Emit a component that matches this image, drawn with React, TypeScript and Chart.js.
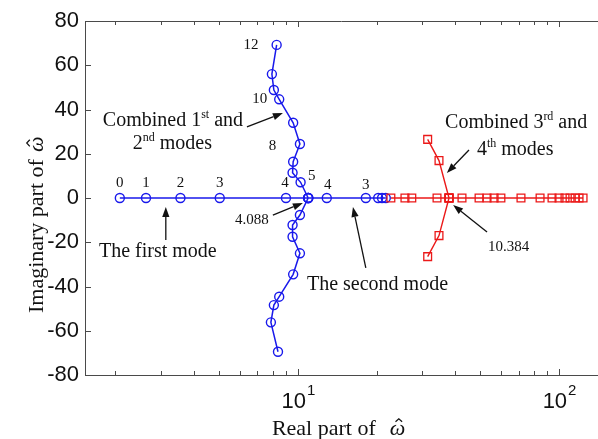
import React, { useEffect, useRef } from "react";
import { Chart, registerables } from "chart.js";
Chart.register(...registerables);

// ---------- data (real part, imaginary part) ----------
// blue: first mode on the real axis (parameter 0 .. 4, then junction 4.088)
const firstModeRe = [2.08, 2.62, 3.55, 5.02, 9.0, 10.95];
const firstModeIm = [0, 0, 0, 0, 0, 0];
// blue: second mode on the real axis
const secondModeRe = [21.7, 21.0, 20.3, 18.2, 12.9, 10.95];
const secondModeIm = [0, 0, 0, 0, 0, 0];
// blue: combined 1st and 2nd modes (complex pair)
const comb12UpRe = [10.95, 10.24, 9.54, 9.59, 10.18, 9.59, 8.48, 8.09, 7.95, 8.29];
const comb12UpIm = [0, 7.1, 11.4, 16.4, 24.4, 34.0, 44.6, 48.8, 56.0, 69.2];
const comb12LoRe = [10.95, 10.18, 9.54, 9.54, 10.18, 9.59, 8.48, 8.09, 7.88, 8.39];
const comb12LoIm = [0, -7.7, -12.2, -17.5, -25.0, -34.5, -44.6, -48.4, -56.2, -69.5];
// red: third mode on the real axis
const thirdModeRe = [22.7, 25.7, 27.3, 34.1, 37.9];
const thirdModeIm = [0, 0, 0, 0, 0];
// red: fourth mode on the real axis
const fourthModeRe = [123.6, 119.3, 115.2, 110.2, 105.4, 100, 94.0, 84.6, 71.5, 59.9, 56.4, 53.0, 49.4, 42.5, 37.9];
const fourthModeIm = [0, 0, 0, 0, 0, 0, 0, 0, 0, 0, 0, 0, 0, 0, 0];
// red: combined 3rd and 4th modes
const comb34UpRe = [37.9, 34.7, 31.4];
const comb34UpIm = [0, 16.9, 26.5];
const comb34LoRe = [37.9, 34.7, 31.4];
const comb34LoIm = [0, -17.0, -26.5];

// ---------- ticks ----------
const yTicks = [-80, -60, -40, -20, 0, 20, 40, 60, 80];
const xMajorTicks = [10, 100];
const xMajorExp = ["1", "2"];
const xMinorTicks = [2, 3, 4, 5, 6, 7, 8, 9, 20, 30, 40, 50, 60, 70, 80, 90];

// ---------- annotations (data coordinates) ----------
const numLabels = ["0", "1", "2", "3", "4", "5", "4", "3", "8", "10", "12"];
const numLabelRe = [2.08, 2.62, 3.55, 5.02, 8.92, 11.3, 13.0, 18.2, 8.0, 7.15, 6.61];
const numLabelIm = [6.8, 6.8, 6.8, 6.8, 6.8, 9.9, 5.9, 5.9, 23.5, 44.6, 69.2];

type Part = { t: string; sup?: boolean };
const richTexts: { parts: Part[]; re: number; im: number; size: number }[] = [
  { parts: [{ t: "Combined 1" }, { t: "st", sup: true }, { t: " and" }], re: 1.79, im: 32.5, size: 20 },
  { parts: [{ t: "2" }, { t: "nd", sup: true }, { t: " modes" }], re: 2.33, im: 22.0, size: 20 },
  { parts: [{ t: "The first mode" }], re: 1.73, im: -26.5, size: 20 },
  { parts: [{ t: "4.088" }], re: 5.74, im: -11.75, size: 15 },
  { parts: [{ t: "The second mode" }], re: 10.83, im: -41.6, size: 20 },
  { parts: [{ t: "Combined 3" }, { t: "rd", sup: true }, { t: " and" }], re: 36.6, im: 31.6, size: 20 },
  { parts: [{ t: "4" }, { t: "th", sup: true }, { t: " modes" }], re: 48.5, im: 19.4, size: 20 },
  { parts: [{ t: "10.384" }], re: 53.5, im: -24.0, size: 15 },
];

// arrows: [fromRe, fromIm, toRe, toIm]
const arrows: number[][] = [
  [6.38, 32.1, 8.76, 38.4],
  [3.12, -19.0, 3.12, -4.1],
  [8.02, -7.7, 10.45, -2.26],
  [18.2, -31.6, 16.25, -4.07],
  [45.2, 21.7, 37.2, 11.3],
  [53.0, -15.4, 39.3, -3.16],
];

const BLUE = "rgb(25,25,235)";
const RED = "rgb(235,25,25)";
const AXIS = "#4a4a4a";
const SERIF = '"Liberation Serif", "Times New Roman", serif';
const SANS = '"Liberation Sans", Arial, sans-serif';

const pts = (re: number[], im: number[]) => re.map((x, i) => ({ x, y: im[i] }));

function blueSet(re: number[], im: number[]) {
  return {
    data: pts(re, im),
    showLine: true,
    borderColor: BLUE,
    borderWidth: 1.5,
    pointStyle: "circle",
    pointRadius: 4.5,
    pointBorderColor: BLUE,
    pointBorderWidth: 1.4,
    pointBackgroundColor: "rgba(0,0,0,0)",
  };
}
function redSet(re: number[], im: number[]) {
  return {
    data: pts(re, im),
    showLine: true,
    borderColor: RED,
    borderWidth: 1.4,
    pointStyle: "rect",
    pointRadius: 5.5,
    pointBorderColor: RED,
    pointBorderWidth: 1.3,
    pointBackgroundColor: "rgba(0,0,0,0)",
  };
}

function drawOmegaHat(ctx: CanvasRenderingContext2D, x: number, y: number, size: number) {
  ctx.font = `italic ${size}px ${SERIF}`;
  ctx.textAlign = "left";
  ctx.fillText("ω", x, y);
  const w = ctx.measureText("ω").width;
  const cx = x + w / 2 + size * 0.06;
  ctx.save();
  ctx.lineWidth = Math.max(1, size * 0.055);
  ctx.strokeStyle = ctx.fillStyle as string;
  ctx.beginPath();
  ctx.moveTo(cx - size * 0.15, y - size * 0.6);
  ctx.lineTo(cx, y - size * 0.74);
  ctx.lineTo(cx + size * 0.15, y - size * 0.6);
  ctx.stroke();
  ctx.restore();
  return w;
}

const overlay = {
  id: "overlay",
  afterDraw(chart: any) {
    const { ctx, chartArea: a, scales } = chart;
    const xs = scales.x;
    const ys = scales.y;
    const X = (v: number) => xs.getPixelForValue(v);
    const Y = (v: number) => ys.getPixelForValue(v);
    ctx.save();

    // box top line + inward ticks
    ctx.strokeStyle = AXIS;
    ctx.lineWidth = 1;
    ctx.beginPath();
    ctx.moveTo(a.left, a.top + 0.5);
    ctx.lineTo(a.right, a.top + 0.5);
    for (const t of xMinorTicks) {
      const px = Math.round(X(t)) + 0.5;
      ctx.moveTo(px, a.bottom);
      ctx.lineTo(px, a.bottom - 4);
      ctx.moveTo(px, a.top);
      ctx.lineTo(px, a.top + 4);
    }
    for (const t of xMajorTicks) {
      const px = Math.round(X(t)) + 0.5;
      ctx.moveTo(px, a.bottom);
      ctx.lineTo(px, a.bottom - 6);
      ctx.moveTo(px, a.top);
      ctx.lineTo(px, a.top + 6);
    }
    for (const t of yTicks) {
      const py = Math.round(Y(t)) + 0.5;
      ctx.moveTo(a.left, py);
      ctx.lineTo(a.left + 6, py);
    }
    ctx.stroke();

    // x tick labels 10^n
    ctx.fillStyle = "#111";
    ctx.textBaseline = "alphabetic";
    xMajorTicks.forEach((t, i) => {
      ctx.font = `22px ${SANS}`;
      const wb = ctx.measureText("10").width;
      ctx.font = `15px ${SANS}`;
      const we = ctx.measureText(xMajorExp[i]).width;
      const x0 = X(t) - (wb + we) / 2;
      ctx.font = `22px ${SANS}`;
      ctx.textAlign = "left";
      ctx.fillText("10", x0, a.bottom + 33);
      ctx.font = `15px ${SANS}`;
      ctx.fillText(xMajorExp[i], x0 + wb + 1, a.bottom + 20);
    });

    // axis titles
    ctx.fillStyle = "#111";
    ctx.font = `22px ${SERIF}`;
    ctx.textAlign = "left";
    const xt = "Real part of";
    const xtw = ctx.measureText(xt).width;
    const xtStart = X(7.95);
    ctx.fillText(xt, xtStart, a.bottom + 60);
    drawOmegaHat(ctx, xtStart + xtw + 14, a.bottom + 60, 22);

    ctx.save();
    ctx.translate(43, Y(-52));
    ctx.rotate(-Math.PI / 2);
    ctx.font = `22px ${SERIF}`;
    const yt = "Imaginary part of";
    const ytw = ctx.measureText(yt).width;
    ctx.fillText(yt, 0, 0);
    drawOmegaHat(ctx, ytw + 7, 0, 22);
    ctx.restore();

    // numeric point labels
    ctx.font = `15px ${SERIF}`;
    ctx.textAlign = "center";
    ctx.textBaseline = "middle";
    numLabels.forEach((s, i) => {
      ctx.fillText(s, X(numLabelRe[i]), Y(numLabelIm[i]));
    });

    // rich texts
    ctx.textAlign = "left";
    ctx.textBaseline = "alphabetic";
    for (const r of richTexts) {
      let cx = X(r.re);
      const cy = Y(r.im);
      for (const p of r.parts) {
        if (p.sup) {
          ctx.font = `${Math.round(r.size * 0.62)}px ${SERIF}`;
          ctx.fillText(p.t, cx, cy - r.size * 0.42);
        } else {
          ctx.font = `${r.size}px ${SERIF}`;
          ctx.fillText(p.t, cx, cy);
        }
        cx += ctx.measureText(p.t).width;
      }
    }

    // arrows
    ctx.strokeStyle = "#111";
    ctx.fillStyle = "#111";
    ctx.lineWidth = 1.3;
    for (const [r0, i0, r1, i1] of arrows) {
      const x0 = X(r0), y0 = Y(i0), x1 = X(r1), y1 = Y(i1);
      const ang = Math.atan2(y1 - y0, x1 - x0);
      const L = 10, W = 3.6;
      const bx = x1 - L * Math.cos(ang), by = y1 - L * Math.sin(ang);
      ctx.beginPath();
      ctx.moveTo(x0, y0);
      ctx.lineTo(bx, by);
      ctx.stroke();
      ctx.beginPath();
      ctx.moveTo(x1, y1);
      ctx.lineTo(bx + W * Math.sin(ang), by - W * Math.cos(ang));
      ctx.lineTo(bx - W * Math.sin(ang), by + W * Math.cos(ang));
      ctx.closePath();
      ctx.fill();
    }
    ctx.restore();
  },
};

export default function App() {
  const ref = useRef<HTMLCanvasElement>(null);
  useEffect(() => {
    document.body.style.margin = "0";
    document.body.style.overflow = "hidden";
    const chart = new Chart(ref.current as HTMLCanvasElement, {
      type: "scatter",
      data: {
        datasets: [
          redSet(comb34UpRe, comb34UpIm),
          redSet(comb34LoRe, comb34LoIm),
          redSet(thirdModeRe, thirdModeIm),
          redSet(fourthModeRe, fourthModeIm),
          blueSet(firstModeRe, firstModeIm),
          blueSet(secondModeRe, secondModeIm),
          blueSet(comb12UpRe, comb12UpIm),
          blueSet(comb12LoRe, comb12LoIm),
        ] as any,
      },
      options: {
        animation: false,
        responsive: false,
        events: [],
        layout: { autoPadding: false, padding: { top: 21, right: 0, left: 0, bottom: 0 } },
        plugins: { legend: { display: false }, tooltip: { enabled: false } },
        scales: {
          x: {
            type: "logarithmic",
            min: 1.53,
            max: 141,
            grid: { display: false, drawTicks: false },
            border: { display: true, color: AXIS, width: 1 },
            ticks: { display: false },
            afterFit: (s: any) => {
              s.height = 64;
            },
          },
          y: {
            type: "linear",
            min: -80,
            max: 80,
            grid: { display: false, drawTicks: false },
            border: { display: true, color: AXIS, width: 1 },
            ticks: {
              stepSize: 20,
              padding: 6,
              color: "#111",
              font: { family: "Liberation Sans", size: 22 },
            },
            afterFit: (s: any) => {
              s.width = 85;
            },
          },
        },
      } as any,
      plugins: [overlay],
    });
    return () => chart.destroy();
  }, []);
  return (
    <canvas
      ref={ref}
      width={598}
      height={439}
      style={{ display: "block", width: 598, height: 439 }}
    />
  );
}
